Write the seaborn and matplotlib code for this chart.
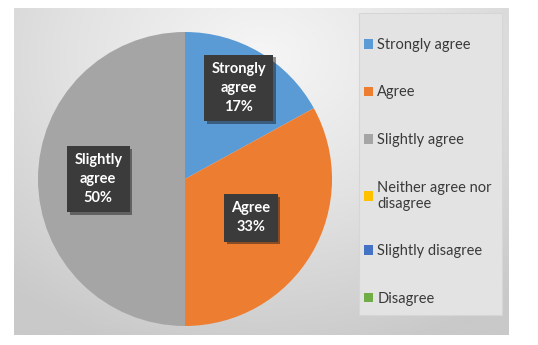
import numpy as np
import matplotlib
matplotlib.use('Agg')
import matplotlib.pyplot as plt
import matplotlib.patheffects as pe
from matplotlib.colors import LinearSegmentedColormap
from matplotlib.patches import Rectangle
import seaborn as sns

## Data
categories = ['Strongly agree', 'Agree', 'Slightly agree',
              'Neither agree nor\ndisagree', 'Slightly disagree', 'Disagree']
box_labels = ['Strongly\nagree', 'Agree', 'Slightly\nagree', '', '', '']
values     = [17, 33, 50, 0, 0, 0]

## Style
sns.set_theme(style='white')
plt.rcParams['font.family'] = ['Lato', 'DejaVu Sans']
palette  = sns.color_palette(['#5B9BD5', '#ED7D31', '#A5A5A5', '#FFC000', '#4472C4', '#70AD47'])
lbl_dist = [0.72, 0.52, 0.59, 0, 0, 0]

W, H = 538, 345
fig = plt.figure(figsize=(W/100, H/100), dpi=100)
fig.patch.set_facecolor('white')

## Radial gray background of the chart area
bg = fig.add_axes([14/W, 1-335/H, 495/W, 327/H])
yy, xx = np.mgrid[0:1:200j, 0:1:300j]
rr = np.sqrt(((xx-0.5)/0.75)**2 + ((yy-0.15)/0.9)**2)
cmap = LinearSegmentedColormap.from_list('bg', ['#f6f6f6', '#e2e2e2', '#c9c9c9'])
bg.imshow(rr, cmap=cmap, aspect='auto', vmin=0, vmax=1.05, extent=[0, 1, 1, 0])
bg.set_axis_off()
# legend panel
bg.add_patch(Rectangle(((359-14)/495, (28-8)/327), (502-359)/495, (330-28)/327,
                       transform=bg.transAxes, fc='#e3e3e3', ec='#d6d6d6', lw=0.8))

## Pie
cx, cy, r = 185, 179, 147
ax = fig.add_axes([(cx-r)/W, 1-(cy+r)/H, 2*r/W, 2*r/H])
wedges, _ = ax.pie(values, colors=palette, startangle=90, counterclock=False,
                   radius=1, wedgeprops=dict(linewidth=0))
ax.set_xlim(-1, 1)
ax.set_ylim(-1, 1)
ax.set_axis_off()

total = sum(values)
for w, v, lab, d in zip(wedges, values, box_labels, lbl_dist):
    if v == 0:
        continue
    ang = np.deg2rad((w.theta1 + w.theta2) / 2)
    t = ax.text(d*np.cos(ang), d*np.sin(ang), '%s\n%d%%' % (lab, round(100*v/total)),
                ha='center', va='center', color='white', fontsize=10.5,
                fontweight='bold', linespacing=1.45,
                bbox=dict(boxstyle='square,pad=0.5', fc='#3b3b3b', ec='none'))
    t.get_bbox_patch().set_path_effects([pe.SimplePatchShadow(offset=(2, -2), alpha=0.45),
                                         pe.Normal()])

## Legend
leg = fig.legend(wedges, categories, loc='upper left',
                 bbox_to_anchor=(361/W, 1-35/H), fontsize=10.5,
                 handlelength=0.62, handleheight=0.62, handletextpad=0.3,
                 labelspacing=2.3, borderpad=0.2, borderaxespad=0,
                 frameon=False)
for txt in leg.get_texts():
    txt.set_color('#3a3a3a')

fig.savefig('out.png', dpi=100)
